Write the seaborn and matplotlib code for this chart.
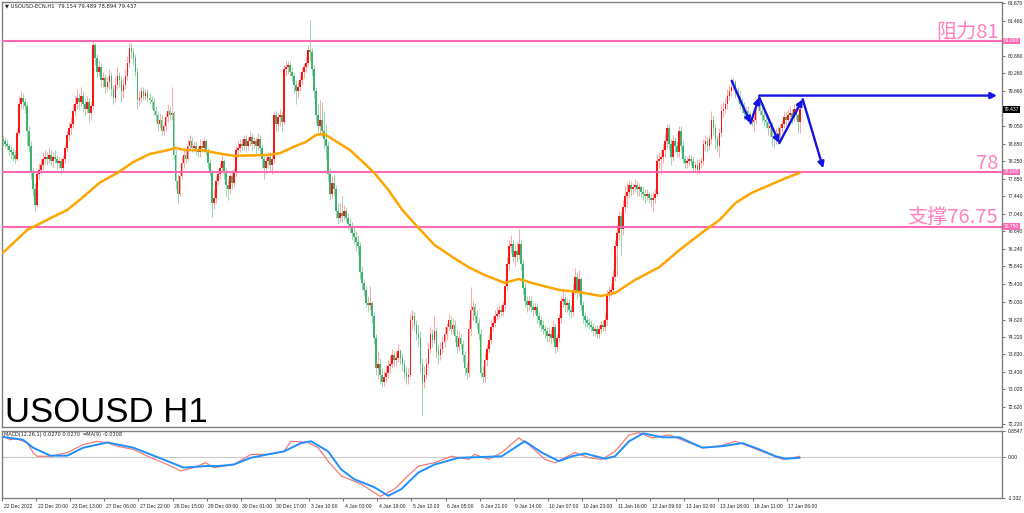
import numpy as np
import pandas as pd
import matplotlib
matplotlib.use("Agg")
import matplotlib.pyplot as plt
import matplotlib.transforms as mtransforms
import seaborn as sns

# ---------------- data (USOUSD H1) ----------------
FIRST_OPEN = 78.75
CLOSE = [
    78.70, 78.65, 78.60, 78.50, 78.45, 78.40, 78.30, 78.90, 79.55, 79.70,
    79.60, 79.50, 78.95, 78.60, 78.00, 77.60, 77.25, 77.95, 78.05, 78.15,
    78.30, 78.35, 78.30, 78.40, 78.25, 78.35, 78.30, 78.20, 78.25, 78.10,
    78.30, 78.55, 78.85, 79.00, 79.10, 79.40, 79.55, 79.70, 79.60, 79.75,
    79.55, 79.45, 79.60, 79.35, 79.50, 80.90, 80.60, 80.30, 80.40, 80.10,
    80.15, 79.95, 80.05, 80.20, 79.90, 79.70, 80.00, 80.20, 80.10, 79.85,
    80.00, 80.20, 80.50, 80.85, 80.75, 80.60, 80.30, 79.65, 79.70, 79.85,
    79.75, 79.80, 79.70, 79.65, 79.60, 79.40, 79.30, 79.10, 79.20, 78.95,
    79.05, 79.25, 79.40, 79.30, 79.35, 78.40, 77.80, 77.50, 77.90, 78.20,
    78.40, 78.30, 78.60, 78.70, 78.55, 78.60, 78.50, 78.45, 78.60, 78.55,
    78.70, 78.50, 78.20, 78.00, 77.30, 77.40, 77.80, 77.95, 78.10, 78.25,
    78.00, 77.70, 77.60, 77.90, 77.75, 78.00, 78.50, 78.55, 78.65, 78.60,
    78.75, 78.60, 78.70, 78.80, 78.65, 78.70, 78.60, 78.75, 78.55, 78.30,
    78.10, 78.25, 78.35, 78.15, 78.30, 79.30, 79.10, 79.25, 79.30, 79.15,
    80.35, 80.40, 80.45, 80.30, 80.20, 80.00, 79.85, 79.95, 80.10, 80.30,
    80.40, 80.50, 80.80, 80.75, 80.35, 79.85, 79.30, 79.05, 79.20, 78.95,
    78.75, 78.60, 77.95, 77.50, 77.75, 77.60, 77.10, 76.95, 77.05, 77.00,
    77.10, 76.95, 76.80, 76.75, 76.60, 76.50, 76.40, 76.30, 75.70, 75.45,
    75.30, 75.00, 74.95, 75.00, 74.70, 74.20, 73.50, 73.60, 73.35, 73.20,
    73.30, 73.40, 73.55, 73.60, 73.80, 73.70, 73.75, 73.90, 73.75, 73.60,
    73.40, 73.30, 73.35, 74.60, 74.70, 74.50, 74.30, 74.20, 73.60, 73.20,
    73.35, 73.60, 73.95, 74.30, 74.15, 74.35, 73.90, 73.80, 73.95, 74.10,
    74.30, 74.45, 74.60, 74.40, 74.50, 74.25, 74.00, 74.20, 74.05, 73.80,
    73.50, 73.40, 74.40, 74.85, 74.90, 74.70, 74.55, 74.30, 73.40, 73.30,
    73.70, 73.95, 74.15, 74.45, 74.55, 74.70, 74.75, 74.85, 74.80, 74.95,
    75.40, 75.90, 76.30, 76.35, 76.05, 76.20, 76.10, 76.35, 75.90, 75.35,
    75.05, 74.95, 75.05, 74.90, 74.85, 74.90, 74.70, 74.60, 74.50, 74.40,
    74.35, 74.25, 74.30, 74.20, 74.45, 74.00, 74.20, 74.65, 75.05, 75.10,
    74.95, 75.00, 74.85, 74.80, 75.30, 75.60, 75.25, 75.55, 74.95, 74.70,
    74.60, 74.55, 74.50, 74.45, 74.35, 74.40, 74.30, 74.40, 74.50, 74.45,
    74.60, 75.20, 75.25, 75.30, 75.60, 76.30, 76.60, 77.00, 76.70, 77.20,
    77.45, 77.55, 77.70, 77.60, 77.65, 77.70, 77.60, 77.65, 77.55, 77.50,
    77.45, 77.50, 77.40, 77.35, 77.40, 77.50, 78.25, 78.30, 78.35, 78.50,
    78.70, 79.00, 78.65, 78.35, 78.70, 78.60, 78.45, 78.95, 78.60, 78.30,
    78.20, 78.25, 78.30, 78.25, 78.10, 78.15, 78.05, 78.20, 78.25, 78.65,
    78.70, 78.60, 78.75, 79.20, 79.00, 78.75, 78.60, 78.90, 79.40, 79.45,
    79.55, 79.75, 79.85, 79.95, 80.05, 79.80, 79.75, 79.55, 79.50, 79.35,
    79.40, 79.30, 79.25, 79.15, 79.20, 79.50, 79.55, 79.40, 79.30, 79.20,
    79.15, 79.00, 79.05, 78.80, 78.75, 78.90, 78.85, 79.00, 79.10, 79.25,
    79.20, 79.30, 79.35, 79.25, 79.45, 79.30, 79.154, 79.437,
]
HIGH = [
    78.85, 78.80, 78.75, 78.65, 78.60, 78.55, 78.50, 79.00, 79.75, 79.85,
    79.80, 79.70, 79.60, 79.05, 78.70, 78.10, 77.75, 78.05, 78.20, 78.30,
    78.45, 78.50, 78.45, 78.55, 78.50, 78.45, 78.50, 78.40, 78.35, 78.35,
    78.40, 78.65, 78.95, 79.15, 79.25, 79.55, 79.75, 79.90, 79.80, 79.95,
    79.85, 79.70, 79.75, 79.70, 79.60, 81.00, 80.95, 80.70, 80.55, 80.50,
    80.30, 80.25, 80.20, 80.35, 80.30, 80.00, 80.15, 80.40, 80.30, 80.20,
    80.15, 80.35, 80.65, 80.97, 80.95, 80.85, 80.70, 80.40, 79.85, 79.95,
    79.95, 79.90, 79.90, 79.80, 79.75, 79.70, 79.50, 79.40, 79.35, 79.30,
    79.15, 79.35, 79.55, 79.50, 79.95, 79.40, 78.50, 77.95, 78.00, 78.35,
    78.55, 78.50, 78.75, 78.85, 78.80, 78.70, 78.70, 78.60, 78.75, 78.70,
    78.80, 78.75, 78.55, 78.30, 78.05, 77.60, 77.90, 78.05, 78.20, 78.40,
    78.30, 78.10, 77.85, 78.00, 78.05, 78.10, 78.60, 78.70, 78.75, 78.75,
    78.85, 78.85, 78.80, 78.95, 78.90, 78.80, 78.80, 78.90, 78.85, 78.65,
    78.40, 78.35, 78.45, 78.45, 78.40, 79.40, 79.40, 79.35, 79.45, 79.40,
    80.45, 80.55, 80.55, 80.55, 80.40, 80.30, 80.10, 80.05, 80.20, 80.40,
    80.50, 80.65, 80.90, 81.48, 80.85, 80.45, 79.95, 79.55, 79.65, 79.60,
    79.40, 79.10, 78.70, 78.10, 77.90, 77.95, 77.70, 77.30, 77.30, 77.45,
    77.25, 77.20, 77.05, 76.95, 76.85, 76.75, 76.65, 76.55, 76.40, 75.85,
    75.55, 75.40, 75.15, 75.40, 75.05, 74.80, 74.30, 73.90, 73.75, 73.50,
    73.45, 73.55, 73.70, 73.80, 73.95, 73.90, 73.90, 74.05, 73.95, 73.85,
    73.70, 73.55, 73.50, 74.75, 74.85, 74.80, 74.60, 74.50, 74.35, 73.75,
    73.55, 73.75, 74.10, 74.45, 74.40, 74.70, 74.45, 74.05, 74.10, 74.25,
    74.45, 74.55, 74.75, 74.70, 74.65, 74.60, 74.40, 74.35, 74.30, 74.15,
    73.90, 73.65, 74.60, 75.37, 75.05, 75.00, 74.85, 74.65, 74.40, 73.55,
    73.85, 74.05, 74.30, 74.60, 74.70, 74.85, 74.90, 74.95, 74.95, 75.05,
    75.55, 76.05, 76.45, 76.55, 76.45, 76.35, 76.40, 76.70, 76.45, 76.00,
    75.45, 75.15, 75.15, 75.15, 75.00, 75.00, 75.00, 74.80, 74.70, 74.60,
    74.50, 74.45, 74.45, 74.40, 74.60, 74.55, 74.30, 74.75, 75.15, 75.30,
    75.20, 75.10, 75.10, 74.95, 75.45, 75.80, 75.70, 75.75, 75.60, 75.05,
    74.80, 74.70, 74.65, 74.60, 74.55, 74.50, 74.50, 74.50, 74.60, 74.60,
    74.75, 75.30, 75.40, 75.45, 75.75, 76.45, 76.80, 77.10, 77.10, 77.35,
    77.70, 77.75, 77.80, 77.80, 77.75, 77.85, 77.80, 77.75, 77.70, 77.65,
    77.60, 77.60, 77.55, 77.50, 77.55, 77.60, 78.40, 78.45, 78.50, 78.65,
    78.90, 79.10, 79.10, 78.75, 78.85, 78.80, 78.70, 79.05, 79.05, 78.70,
    78.40, 78.35, 78.40, 78.40, 78.35, 78.25, 78.30, 78.30, 78.35, 78.75,
    78.85, 78.80, 78.85, 79.40, 79.30, 79.10, 78.85, 79.00, 79.55, 79.60,
    79.70, 79.90, 80.00, 80.05, 80.18, 80.10, 79.95, 79.85, 79.70, 79.60,
    79.50, 79.50, 79.40, 79.35, 79.30, 79.65, 79.70, 79.65, 79.50, 79.40,
    79.30, 79.25, 79.15, 79.15, 78.95, 79.00, 79.05, 79.10, 79.20, 79.40,
    79.40, 79.45, 79.50, 79.45, 79.55, 79.50, 79.35, 79.489,
]
LOW = [
    78.60, 78.55, 78.50, 78.40, 78.30, 78.25, 78.20, 78.25, 78.85, 79.45,
    79.45, 79.35, 78.60, 78.45, 77.85, 77.45, 77.10, 77.20, 77.85, 77.95,
    78.05, 78.20, 78.15, 78.20, 78.15, 78.10, 78.20, 78.05, 78.10, 77.95,
    78.00, 78.20, 78.45, 78.70, 78.85, 79.00, 79.30, 79.45, 79.45, 79.50,
    79.40, 79.30, 79.35, 79.15, 79.20, 79.45, 80.45, 80.15, 80.20, 79.95,
    79.95, 79.80, 79.85, 79.90, 79.75, 79.55, 79.60, 79.90, 79.95, 79.60,
    79.70, 79.90, 80.10, 80.40, 80.60, 80.45, 80.20, 79.45, 79.50, 79.60,
    79.65, 79.65, 79.60, 79.55, 79.45, 79.30, 79.15, 78.95, 79.00, 78.85,
    78.85, 78.95, 79.15, 79.20, 79.20, 78.30, 77.60, 77.30, 77.45, 77.85,
    78.10, 78.20, 78.25, 78.50, 78.45, 78.45, 78.40, 78.35, 78.35, 78.45,
    78.45, 78.40, 78.10, 77.90, 76.97, 77.15, 77.30, 77.70, 77.85, 78.00,
    77.85, 77.45, 77.35, 77.50, 77.60, 77.65, 77.90, 78.35, 78.45, 78.50,
    78.50, 78.45, 78.50, 78.60, 78.50, 78.55, 78.40, 78.50, 78.40, 78.10,
    77.85, 77.95, 78.10, 78.00, 77.95, 78.20, 78.95, 78.95, 79.05, 78.95,
    79.10, 80.20, 80.25, 80.20, 80.05, 79.80, 79.55, 79.70, 79.85, 80.00,
    80.15, 80.30, 80.40, 80.55, 80.20, 79.70, 79.10, 78.90, 78.85, 78.80,
    78.55, 78.30, 77.80, 77.35, 77.40, 77.45, 76.95, 76.80, 76.85, 76.85,
    76.90, 76.85, 76.70, 76.60, 76.45, 76.35, 76.20, 76.10, 75.55, 75.30,
    75.15, 74.90, 74.80, 74.85, 74.55, 74.05, 73.35, 73.25, 73.15, 73.08,
    73.10, 73.20, 73.30, 73.40, 73.50, 73.55, 73.55, 73.65, 73.60, 73.45,
    73.25, 73.15, 73.15, 73.30, 74.40, 74.35, 74.15, 74.00, 73.40, 72.44,
    73.05, 73.25, 73.50, 73.85, 74.00, 74.05, 73.75, 73.60, 73.70, 73.85,
    74.00, 74.15, 74.35, 74.30, 74.30, 74.10, 73.85, 73.90, 73.95, 73.65,
    73.35, 73.25, 73.30, 74.25, 74.60, 74.55, 74.40, 74.15, 73.30, 73.20,
    73.20, 73.55, 73.85, 74.05, 74.35, 74.45, 74.60, 74.65, 74.70, 74.70,
    74.85, 75.30, 75.75, 76.15, 75.95, 75.85, 75.95, 76.00, 75.75, 75.20,
    74.90, 74.80, 74.85, 74.80, 74.70, 74.75, 74.55, 74.45, 74.35, 74.30,
    74.20, 74.10, 74.10, 74.05, 74.10, 73.85, 73.90, 74.10, 74.55, 74.90,
    74.80, 74.80, 74.70, 74.65, 74.70, 75.20, 75.10, 75.15, 74.85, 74.55,
    74.45, 74.45, 74.40, 74.35, 74.25, 74.25, 74.20, 74.20, 74.30, 74.35,
    74.35, 74.50, 75.05, 75.15, 75.20, 75.50, 75.60, 76.45, 76.10, 76.55,
    77.05, 77.20, 77.40, 77.45, 77.50, 77.55, 77.45, 77.45, 77.40, 77.35,
    77.30, 77.35, 77.30, 77.20, 77.10, 77.30, 77.45, 78.10, 77.95, 78.20,
    78.35, 78.55, 78.50, 78.15, 78.25, 78.45, 78.35, 78.35, 78.45, 78.20,
    78.10, 78.10, 78.15, 78.15, 78.00, 78.00, 77.95, 77.95, 78.10, 78.15,
    78.50, 78.45, 78.50, 78.65, 78.85, 78.55, 78.45, 78.35, 78.80, 79.25,
    79.35, 79.45, 79.65, 79.75, 79.85, 79.70, 79.60, 79.45, 79.35, 79.20,
    79.25, 79.25, 79.15, 79.05, 78.95, 79.10, 79.40, 79.30, 79.15, 79.05,
    79.00, 78.85, 78.80, 78.60, 78.55, 78.65, 78.70, 78.75, 78.90, 79.00,
    79.05, 79.10, 79.15, 79.10, 79.15, 79.20, 78.90, 78.894,
]

# orange moving average, sampled along the curve (bar index, price)
MA_BAR = [0, 12, 24, 32, 40, 48, 57, 65, 73, 82, 86, 91, 99, 107, 115, 124, 132,
          138, 145, 151, 156, 160, 165, 173, 180, 185, 192, 199, 207, 215, 224,
          232, 240, 250, 257, 265, 277, 287, 298, 305, 315, 327, 337, 348, 357,
          365, 373, 382, 390, 397]
MA_VAL = [76.15, 76.67, 76.95, 77.13, 77.43, 77.75, 77.98, 78.23, 78.41, 78.50,
          78.55, 78.50, 78.50, 78.43, 78.37, 78.38, 78.39, 78.43, 78.58, 78.69,
          78.85, 78.87, 78.73, 78.50, 78.20, 77.98, 77.59, 77.13, 76.72, 76.33,
          76.05, 75.82, 75.64, 75.46, 75.55, 75.44, 75.30, 75.25, 75.16, 75.23,
          75.53, 75.82, 76.21, 76.60, 76.90, 77.29, 77.52, 77.70, 77.86, 77.98]

# MACD main line (red) and its MA(9) (blue)
MACD_BAR = [0, 3.5, 7, 12, 15, 17, 23.5, 32, 40, 47, 52, 57, 65, 73.5, 82, 88.5,
            95, 101, 105, 115, 123.5, 132, 140, 143.5, 152, 157, 162, 168.5,
            178.5, 188, 195, 200, 207, 215, 223.5, 232, 235, 242, 248.5, 257,
            262, 270, 275, 285, 292, 298.5, 305, 312, 317, 323.5, 332, 340,
            348.5, 357, 365, 373.5, 382, 388.5, 393.5, 397]
MACD_VAL = [0.68, 0.57, 0.60, 0.47, 0.15, 0.03, 0.03, 0.15, 0.41, 0.52, 0.47,
            0.36, 0.25, -0.01, -0.24, -0.45, -0.34, -0.18, -0.34, -0.24, 0.09,
            0.09, 0.19, 0.52, 0.48, 0.31, -0.13, -0.61, -0.88, -1.28, -1.05,
            -0.72, -0.29, -0.18, 0.03, -0.07, 0.09, -0.07, 0.15, 0.63, 0.41,
            -0.07, -0.18, 0.15, -0.02, -0.07, 0.19, 0.73, 0.80, 0.63, 0.73,
            0.52, 0.31, 0.36, 0.52, 0.31, 0.09, -0.07, -0.02, 0.03]
SIG_BAR = [0, 10, 15, 23.5, 32, 40, 52, 65, 73.5, 82, 90, 101, 107, 115, 123.5,
           132, 140, 148.5, 153.5, 162, 168.5, 175, 185, 192, 198.5, 207, 215,
           227, 240, 248.5, 255, 260, 268.5, 277, 283.5, 290, 300, 305, 312, 319,
           328.5, 337, 348.5, 358.5, 368.5, 377, 385, 390, 397]
SIG_VAL = [0.66, 0.57, 0.31, 0.05, 0.05, 0.31, 0.48, 0.31, 0.09, -0.13, -0.34,
           -0.29, -0.29, -0.24, -0.02, 0.09, 0.19, 0.46, 0.52, 0.19, -0.40,
           -0.72, -0.98, -1.26, -1.04, -0.50, -0.24, -0.02, 0.01, 0.03, 0.31,
           0.52, 0.15, -0.13, 0.03, 0.12, -0.05, 0.03, 0.52, 0.78, 0.65, 0.65,
           0.31, 0.36, 0.46, 0.25, 0.03, -0.05, -0.02]

LEVELS = [81.0, 78.0, 76.75]
LEVEL_TEXT = ["阻力81", "78", "支撑76.75"]
LEVEL_BOX = ["81.000", "78.000", "76.750"]
LAST_PRICE = 79.437

PRICE_TICKS = [81.870, 81.460, 80.660, 80.260, 79.860, 79.050, 78.650, 78.250,
               77.850, 77.440, 77.040, 76.640, 76.240, 75.840, 75.430, 75.030,
               74.620, 74.220, 73.830, 73.430, 73.020, 72.620, 72.220]
MACD_TICKS = [0.8547, 0.0, -1.332]
MACD_TICK_LABELS = ["0.8547", "0.00", "-1.332"]

XTICK_BARS = [0, 17, 34, 51, 68, 85, 102, 119, 136, 153, 170, 187, 204, 221,
              238, 255, 272, 289, 306, 323, 340, 357, 374, 391]
XTICK_LABELS = ["22 Dec 2022", "22 Dec 20:00", "23 Dec 13:00", "27 Dec 06:00",
                "27 Dec 22:00", "28 Dec 15:00", "29 Dec 08:00", "30 Dec 01:00",
                "30 Dec 17:00", "3 Jan 10:00", "4 Jan 03:00", "4 Jan 19:00",
                "5 Jan 12:00", "6 Jan 05:00", "6 Jan 21:00", "9 Jan 14:00",
                "10 Jan 07:00", "10 Jan 23:00", "11 Jan 16:00", "12 Jan 09:00",
                "13 Jan 02:00", "13 Jan 18:00", "16 Jan 11:00", "17 Jan 06:00"]

# hand-drawn pattern (bar index, price)
ZIGZAG = [(363.1, 80.09), (372.5, 79.115), (376.8, 79.71), (386.8, 78.66),
          (398.5, 79.665), (408.7, 78.085)]
NECK = [(376.8, 79.75), (495.3, 79.75)]

HEADER = "\u25bc USOUSD-ECN,H1  79.154 79.489 78.894 79.437"
MACD_HEADER = "MACD(12,26,1) 0.0270 0.0270  \u2550MA(9) -0.0308"

# ---------------- style ----------------
sns.set_style("white")
plt.rcParams['font.family'] = ['Liberation Sans', 'Noto Sans CJK SC', 'DejaVu Sans']

fig = plt.figure(figsize=(10.24, 5.13), dpi=100)
W, H = 1024, 513
ax = fig.add_axes([2 / W, 1 - 427 / H, 1000 / W, 425 / H])
axm = fig.add_axes([2 / W, 1 - 498 / H, 1000 / W, 67 / H])

n = len(CLOSE)
bars = np.arange(n)
close = np.array(CLOSE)
opn = np.array([FIRST_OPEN] + CLOSE[:-1])
high = np.array(HIGH)
low = np.array(LOW)
up = close >= opn
body_low = np.minimum(opn, close)
body_h = np.maximum(np.abs(close - opn), 0.02)

# wicks
ax.vlines(bars[up], low[up], high[up], color='#ffaaaa', lw=0.75, zorder=1)
ax.vlines(bars[~up], low[~up], high[~up], color='#9fd8b0', lw=0.75, zorder=1)
# bodies
ax.bar(bars[up], body_h[up], bottom=body_low[up], width=0.85, color='#ff1414',
       linewidth=0, zorder=2)
ax.bar(bars[~up], body_h[~up], bottom=body_low[~up], width=0.85, color='#3cb371',
       linewidth=0, zorder=2)

# levels
for lv in LEVELS:
    ax.axhline(lv, color='#ff69b4', lw=1.5, zorder=3)

# moving average
ma_df = pd.DataFrame({"bar": MA_BAR, "ma": MA_VAL})
sns.lineplot(data=ma_df, x="bar", y="ma", ax=ax, color='#ffa500', lw=1.8,
             estimator=None, sort=True, zorder=4)

ax.set_xlim(-0.5, 497.8)
ax.set_ylim(72.16, 81.893)
ax.set_xlabel("")
ax.set_ylabel("")
ax.set_xticks([])
ax.yaxis.tick_right()
ax.set_yticks(PRICE_TICKS)
ax.set_yticklabels([f"{v:.3f}" for v in PRICE_TICKS])
ax.tick_params(axis='y', right=True, left=False, length=2.5, width=0.6,
               colors='#555555', labelcolor='#222222', labelsize=3.6, pad=1.5)

# level texts
trans_r = mtransforms.blended_transform_factory(ax.transAxes, ax.transData)
for lv, txt in zip(LEVELS, LEVEL_TEXT):
    ax.annotate(txt, xy=(1.0, lv), xycoords=trans_r, xytext=(-2.5, 2.5),
                textcoords='offset points', ha='right', va='baseline',
                fontsize=14.5, color='#ff82c3',
                family=['Noto Sans CJK SC', 'DejaVu Sans'], zorder=5)
# axis price boxes
for lv, txt in zip(LEVELS, LEVEL_BOX):
    ax.text(1.0015, lv, txt, transform=trans_r, ha='left', va='center',
            fontsize=3.6, color='white', clip_on=False,
            bbox=dict(facecolor='#ff69b4', edgecolor='none', pad=0.6))
ax.text(1.0015, LAST_PRICE, f"{LAST_PRICE:.3f}", transform=trans_r, ha='left',
        va='center', fontsize=3.6, color='white', clip_on=False,
        bbox=dict(facecolor='black', edgecolor='none', pad=0.6))

# zigzag pattern arrows
for (x0, y0), (x1, y1) in zip(ZIGZAG[:-1], ZIGZAG[1:]):
    ax.annotate("", xy=(x1, y1), xytext=(x0, y0),
                arrowprops=dict(arrowstyle='-|>', color='#1414e6', lw=1.7,
                                mutation_scale=9, shrinkA=0, shrinkB=0),
                zorder=6)
ax.annotate("", xy=NECK[1], xytext=NECK[0],
            arrowprops=dict(arrowstyle='-|>', color='#1414e6', lw=1.7,
                            mutation_scale=9, shrinkA=0, shrinkB=0), zorder=6)

# titles
ax.text(0.003, 0.997, HEADER, transform=ax.transAxes, ha='left', va='top',
        fontsize=3.8, color='#222222', family=['DejaVu Sans'])
ax.text(0.003, 0.012, "USOUSD H1", transform=ax.transAxes, ha='left',
        va='baseline', fontsize=25, color='black')

# ---------------- MACD panel ----------------
axm.axhline(0, color='#c8c8c8', lw=0.8, zorder=1)
red_df = pd.DataFrame({"bar": MACD_BAR, "v": MACD_VAL})
sig_df = pd.DataFrame({"bar": SIG_BAR, "v": SIG_VAL})
sns.lineplot(data=red_df, x="bar", y="v", ax=axm, color='#f47a7a', lw=0.9,
             estimator=None, zorder=2)
sns.lineplot(data=sig_df, x="bar", y="v", ax=axm, color='#1e8fff', lw=1.4,
             estimator=None, zorder=3)
axm.set_xlim(-0.5, 497.8)
axm.set_ylim(-1.332, 0.8547)
axm.set_xlabel("")
axm.set_ylabel("")
axm.yaxis.tick_right()
axm.set_yticks(MACD_TICKS)
axm.set_yticklabels(MACD_TICK_LABELS)
axm.tick_params(axis='y', right=True, left=False, length=2.5, width=0.6,
                colors='#555555', labelcolor='#222222', labelsize=3.6, pad=1.5)
axm.set_xticks([b - 0.5 for b in XTICK_BARS])
axm.set_xticklabels(XTICK_LABELS)
axm.tick_params(axis='x', bottom=True, length=2.5, width=0.6, colors='#555555',
                labelcolor='#222222', labelsize=3.6, pad=1.5)
offset = mtransforms.ScaledTranslation(1.5 / 100, 0, fig.dpi_scale_trans)
for lab in axm.get_xticklabels():
    lab.set_ha('left')
    lab.set_transform(lab.get_transform() + offset)
axm.text(0.002, 0.98, MACD_HEADER, transform=axm.transAxes, ha='left', va='top',
         fontsize=3.6, color='#222222', family=['DejaVu Sans'])

for a in (ax, axm):
    for s in a.spines.values():
        s.set_color('#808080')
        s.set_linewidth(1.0)
    a.set_facecolor('white')

fig.savefig("out.png", dpi=100, facecolor='white')
